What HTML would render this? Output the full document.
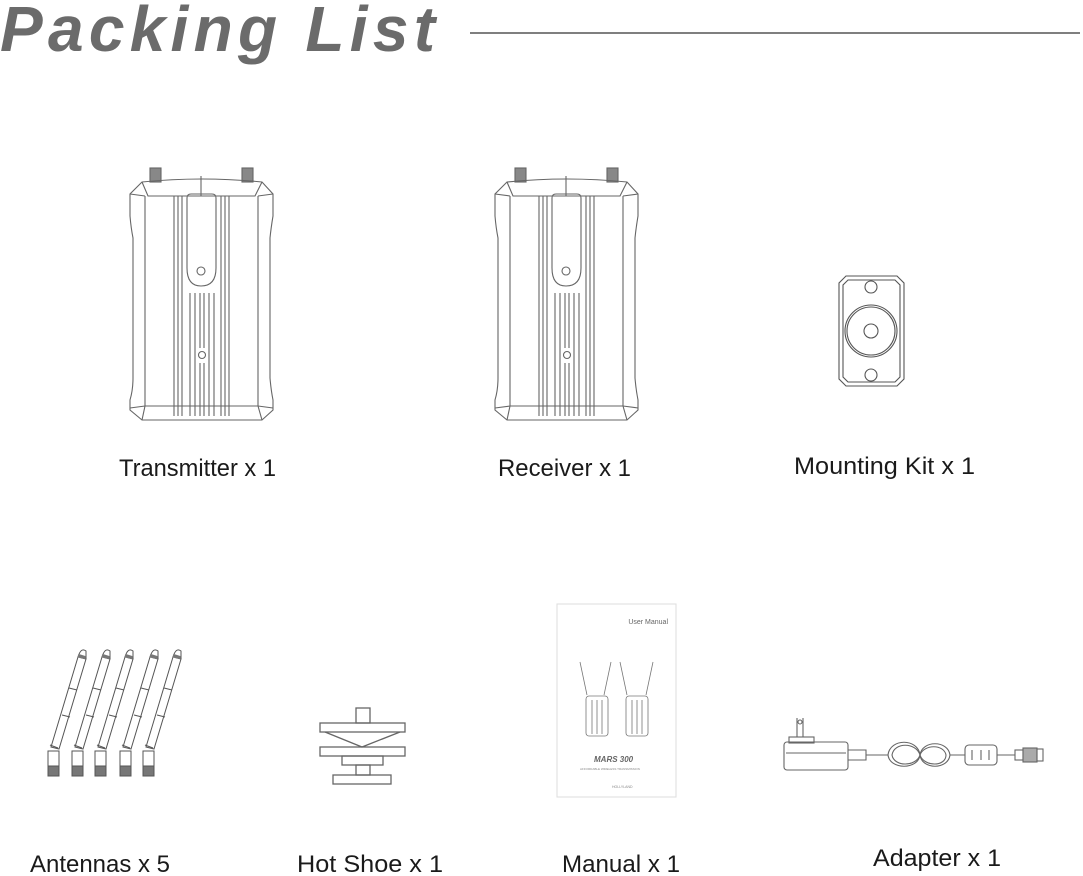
<!DOCTYPE html>
<html><head><meta charset="utf-8"><style>
html,body{margin:0;padding:0;background:#fff;}
svg{display:block;}
</style></head><body>
<svg width="1083" height="876" viewBox="0 0 1083 876" xmlns="http://www.w3.org/2000/svg">
<defs>
<g id="dev" fill="none" stroke="#666" stroke-width="1.1">
  <rect x="20" y="0" width="11" height="14" fill="#888" stroke="#666"/>
  <rect x="112" y="0" width="11" height="14" fill="#888" stroke="#666"/>
  <path d="M12 14 Q72 8 132 14 L143 26 L143 48 Q141 60 140 70 L140 210 Q141 222 143 232 L143 242 L132 252 L12 252 L0 242 L0 232 Q3 222 3 210 L3 70 Q1 60 0 48 L0 26 Z"/>
  <path d="M12 14 L18 28 L125 28 L132 14"/>
  <path d="M0 26 L15 28 M143 26 L128 28"/>
  <path d="M15 28 L15 238 M128 28 L128 238"/>
  <path d="M0 240 L15 238 L128 238 L143 240"/>
  <path d="M15 238 L12 252 M128 238 L132 252"/>
  <path d="M71 8 L71 28"/>
  <path d="M44 28 V248 M48 28 V248 M52 28 V248 M99 28 V248 M95 28 V248 M91 28 V248"/>
  <path d="M57 30 Q57 26 61 26 L82 26 Q86 26 86 30 V100 Q86 118 71 118 Q57 118 57 100 Z"/>
  <circle cx="71" cy="103" r="4"/>
  <path d="M60 125 V248 M65 125 V248 M70 125 V180 M74 125 V180 M79 125 V248 M84 125 V248 M70 195 V248 M74 195 V248"/>
  <circle cx="72" cy="187" r="3.5"/>
</g>
<g id="ant" fill="none" stroke="#555" stroke-width="1">
  <rect x="0" y="0" width="11" height="25"/>
  <rect x="0" y="15" width="11" height="10" fill="#777"/>
  <path d="M3 -4 L30 -94 L38 -92 L11 -2 Z"/>
  <path d="M2 -6 L10 -3" />
  <path d="M21 -63 L29 -61 M14 -36 L22 -34"/>
  <path d="M30 -94 Q33 -104 38 -100 L38 -92" fill="#fff"/>
  <rect x="30" y="-96" width="8" height="3" fill="#777" stroke="none" transform="rotate(17 34 -95)"/>
</g>
</defs>

<text x="0" y="51" font-family="Liberation Sans, sans-serif" font-weight="bold" font-style="italic" font-size="64" fill="#6b6b6b" textLength="435" lengthAdjust="spacing">Packing List</text>
<line x1="470" y1="33" x2="1080" y2="33" stroke="#555" stroke-width="1.5"/>

<use href="#dev" x="130" y="168"/>
<use href="#dev" x="495" y="168"/>

<g fill="none" stroke="#555" stroke-width="1.1">
  <path d="M846 276 L897 276 L904 283 L904 379 L897 386 L846 386 L839 379 L839 283 Z"/>
  <path d="M848 280 L895 280 L900 285 L900 377 L895 382 L848 382 L843 377 L843 285 Z"/>
  <circle cx="871" cy="331" r="26"/><circle cx="871" cy="331" r="24"/>
  <circle cx="871" cy="331" r="7"/>
  <circle cx="871" cy="287" r="6"/><circle cx="871" cy="375" r="6"/>
</g>

<use href="#ant" x="48" y="751"/>
<use href="#ant" x="72" y="751"/>
<use href="#ant" x="95" y="751"/>
<use href="#ant" x="120" y="751"/>
<use href="#ant" x="143" y="751"/>

<g fill="none" stroke="#666" stroke-width="1.3">
  <rect x="356" y="708" width="14" height="15"/>
  <rect x="320" y="723" width="85" height="9"/>
  <path d="M325 732 L362 747 L400 732"/>
  <rect x="320" y="747" width="85" height="9"/>
  <rect x="342" y="756" width="41" height="9"/>
  <rect x="356" y="765" width="14" height="10"/>
  <rect x="333" y="775" width="58" height="9"/>
</g>

<rect x="557" y="604" width="119" height="193" fill="#fff" stroke="#ddd"/>
<text x="668" y="624" font-family="Liberation Sans, sans-serif" font-size="7" fill="#666" text-anchor="end">User Manual</text>
<g fill="none" stroke="#777" stroke-width="0.8">
  <path d="M580 662 L587 695 M611 662 L604 695 M620 662 L627 695 M653 662 L646 695"/>
  <rect x="586" y="696" width="22" height="40" rx="3"/>
  <rect x="626" y="696" width="22" height="40" rx="3"/>
  <path d="M592 700 V734 M597 700 V734 M602 700 V734 M632 700 V734 M637 700 V734 M642 700 V734"/>
</g>
<text x="594" y="762" font-family="Liberation Sans, sans-serif" font-weight="bold" font-style="italic" font-size="8" fill="#666">MARS 300</text>
<text x="580" y="770" font-family="Liberation Sans, sans-serif" font-size="3" fill="#888">AFFORDABLE WIRELESS TRANSMISSION</text>
<text x="612" y="788" font-family="Liberation Sans, sans-serif" font-size="3.5" fill="#888">HOLLYLAND</text>

<g fill="none" stroke="#666" stroke-width="1.1">
  <path d="M797 718 L797 737 M803 718 L803 737"/>
  <circle cx="800" cy="722" r="2"/>
  <rect x="789" y="737" width="25" height="6"/>
  <rect x="784" y="742" width="64" height="28" rx="3"/>
  <path d="M786 753 H846"/>
  <path d="M848 750 H866 V760 H848"/>
  <path d="M866 755 H888 M950 755 H965 M997 755 H1015"/>
  <path d="M888 755 C890 738 918 738 920 755 C922 770 948 770 950 755 C948 740 922 740 920 755 C918 770 890 770 888 755 Z"/>
  <path d="M892 755 C894 742 916 742 920 755 C924 767 946 767 946 755 C944 744 924 744 920 755 C916 767 894 767 892 755 Z"/>
  <rect x="965" y="745" width="32" height="20" rx="4"/>
  <path d="M972 750 V760 M981 750 V760 M989 750 V760"/>
  <rect x="1015" y="750" width="8" height="10"/>
  <rect x="1023" y="748" width="14" height="14" fill="#aaa"/>
  <rect x="1037" y="749" width="6" height="12"/>
</g>

<g font-family="Liberation Sans, sans-serif" font-size="24" fill="#1a1a1a">
  <text x="119" y="476" textLength="157" lengthAdjust="spacingAndGlyphs">Transmitter x 1</text>
  <text x="498" y="476" textLength="133" lengthAdjust="spacingAndGlyphs">Receiver x 1</text>
  <text x="794" y="474" textLength="181" lengthAdjust="spacingAndGlyphs">Mounting Kit x 1</text>
  <text x="30" y="872" textLength="140" lengthAdjust="spacingAndGlyphs">Antennas x 5</text>
  <text x="297" y="872" textLength="146" lengthAdjust="spacingAndGlyphs">Hot Shoe x 1</text>
  <text x="562" y="872" textLength="118" lengthAdjust="spacingAndGlyphs">Manual x 1</text>
  <text x="873" y="866" textLength="128" lengthAdjust="spacingAndGlyphs">Adapter x 1</text>
</g>
</svg>
</body></html>
